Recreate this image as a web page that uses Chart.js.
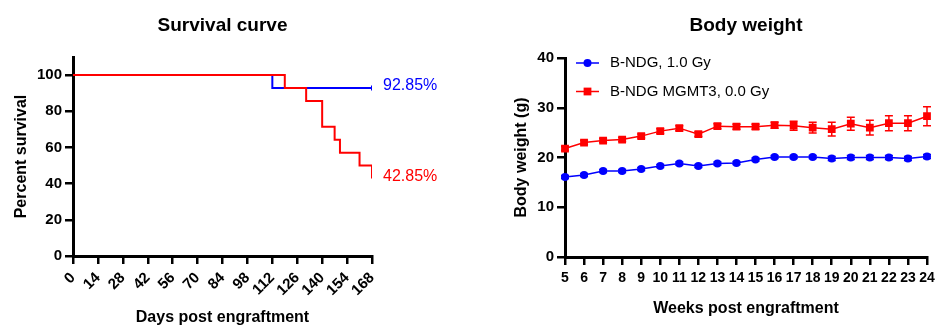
<!DOCTYPE html>
<html>
<head>
<meta charset="utf-8">
<script src="https://cdn.jsdelivr.net/npm/chart.js@4.4.1/dist/chart.umd.min.js"></script>
<style>
body{margin:0;background:#fff;}
#wrap{position:relative;width:943px;height:335px;}
canvas{position:absolute;top:0;}
#survival{left:0;}
#weight{left:470px;}
</style>
</head>
<body>
<div id="wrap">
<canvas id="survival" width="470" height="335"></canvas>
<canvas id="weight" width="473" height="335"></canvas>
</div>
<script>
// survival data (percent alive, step points)
const bndgDays = [0, 112, 168];
const bndgSurv = [100, 92.85, 92.85];
const mgmtDays = [0, 119, 131, 140, 147, 150, 161, 168];
const mgmtSurv = [100, 92.85, 85.71, 71.43, 64.29, 57.14, 50, 42.85];

// body weight data (g), mean and SD
const weeks = ['5','6','7','8','9','10','11','12','13','14','15','16','17','18','19','20','21','22','23','24'];
const bndgWeight = [16.1, 16.5, 17.3, 17.3, 17.7, 18.3, 18.8, 18.3, 18.8, 18.9, 19.6, 20.1, 20.1, 20.1, 19.8, 20.0, 20.0, 20.0, 19.8, 20.2];
const bndgSd     = [0.3, 0.3, 0.3, 0.3, 0.3, 0.3, 0.3, 0.3, 0.3, 0.3, 0.3, 0.3, 0.3, 0.3, 0.4, 0.4, 0.4, 0.4, 0.4, 0.4];
const mgmtWeight = [21.8, 23.0, 23.4, 23.6, 24.3, 25.3, 25.9, 24.7, 26.3, 26.2, 26.2, 26.5, 26.4, 26.0, 25.7, 26.8, 26.0, 26.9, 26.9, 28.3];
const mgmtSd     = [0.4, 0.4, 0.4, 0.4, 0.4, 0.5, 0.5, 0.5, 0.5, 0.5, 0.5, 0.6, 0.9, 1.1, 1.4, 1.3, 1.5, 1.5, 1.5, 1.9];

const FONT = 'Arial, "Liberation Sans", sans-serif';
const BLUE = '#0000ff';
const RED = '#ff0000';
Chart.defaults.font.family = FONT;
Chart.defaults.color = '#000';

const pts = (xs, ys) => xs.map((x, i) => ({x: x, y: ys[i]}));

// title centred over the plot area
const plotTitle = {
  id: 'plotTitle',
  afterDraw(chart, args, opts) {
    const {ctx, chartArea} = chart;
    ctx.save();
    ctx.font = 'bold 19px ' + FONT;
    ctx.fillStyle = '#000';
    ctx.textAlign = 'center';
    ctx.textBaseline = 'middle';
    ctx.fillText(opts.text, (chartArea.left + chartArea.right) / 2, opts.y);
    ctx.restore();
  }
};

// percent label at the end of each survival curve
const endLabels = {
  id: 'endLabels',
  afterDatasetsDraw(chart) {
    const ctx = chart.ctx;
    ctx.save();
    ctx.font = '16px ' + FONT;
    ctx.textAlign = 'left';
    ctx.textBaseline = 'middle';
    chart.data.datasets.forEach((ds, i) => {
      const last = ds.data[ds.data.length - 1];
      const px = chart.scales.x.getPixelForValue(last.x);
      const py = chart.scales.y.getPixelForValue(last.y);
      ctx.fillStyle = ds.borderColor;
      ctx.fillText(last.y.toFixed(2) + '%', px + 11, py - 2);
    });
    ctx.restore();
  }
};

// error bars under the markers
const errorBars = {
  id: 'errorBars',
  beforeDatasetsDraw(chart) {
    const ctx = chart.ctx;
    const y = chart.scales.y;
    ctx.save();
    chart.data.datasets.forEach((ds, i) => {
      const meta = chart.getDatasetMeta(i);
      ctx.strokeStyle = ds.borderColor;
      ctx.lineWidth = 1.5;
      meta.data.forEach((p, j) => {
        const top = y.getPixelForValue(ds.data[j] + ds.sd[j]);
        const bot = y.getPixelForValue(ds.data[j] - ds.sd[j]);
        ctx.beginPath();
        ctx.moveTo(p.x, top); ctx.lineTo(p.x, bot);
        ctx.moveTo(p.x - 4, top); ctx.lineTo(p.x + 4, top);
        ctx.moveTo(p.x - 4, bot); ctx.lineTo(p.x + 4, bot);
        ctx.stroke();
      });
    });
    ctx.restore();
  }
};

// legend drawn inside the plot area, top left
const innerLegend = {
  id: 'innerLegend',
  afterDatasetsDraw(chart) {
    const ctx = chart.ctx;
    const x0 = chart.chartArea.left + 11;
    ctx.save();
    ctx.font = '15px ' + FONT;
    ctx.textBaseline = 'middle';
    chart.data.datasets.forEach((ds, i) => {
      const yy = 63 + i * 28.5;
      ctx.strokeStyle = ds.borderColor;
      ctx.lineWidth = 1.5;
      ctx.beginPath();
      ctx.moveTo(x0, yy); ctx.lineTo(x0 + 23, yy);
      ctx.stroke();
      ctx.fillStyle = ds.borderColor;
      ctx.beginPath();
      if (ds.pointStyle === 'rect') {
        const s = Math.SQRT1_2 * ds.pointRadius;
        ctx.rect(x0 + 11.5 - s, yy - s, 2 * s, 2 * s);
      } else {
        ctx.arc(x0 + 11.5, yy, ds.pointRadius, 0, Math.PI * 2);
      }
      ctx.fill();
      ctx.fillStyle = '#000';
      ctx.fillText(ds.label, x0 + 34, yy);
    });
    ctx.restore();
  }
};

const axisLine = { display: true, color: '#000', width: 3 };
const tickMarks = { display: true, drawOnChartArea: false, drawTicks: true, tickLength: 8, color: '#000', lineWidth: 2.5 };

new Chart(document.getElementById('survival'), {
  type: 'line',
  data: {
    datasets: [{
      label: 'B-NDG MGMT3, 0.0 Gy',
      data: pts(mgmtDays, mgmtSurv),
      borderColor: RED,
      borderWidth: 2,
      stepped: true,
      pointRadius: 0
    }, {
      label: 'B-NDG, 1.0 Gy',
      data: pts(bndgDays, bndgSurv),
      borderColor: BLUE,
      backgroundColor: BLUE,
      borderWidth: 2,
      stepped: true,
      pointStyle: 'line',
      rotation: 90,
      pointBorderWidth: 2,
      pointRadius: c => c.dataIndex === bndgDays.length - 1 ? 2.5 : 0
    }]
  },
  options: {
    responsive: false,
    animation: false,
    layout: { padding: { left: 0, right: 98, top: 57, bottom: 0 } },
    plugins: {
      legend: { display: false },
      tooltip: { enabled: false },
      plotTitle: { text: 'Survival curve', y: 26 }
    },
    scales: {
      x: {
        type: 'linear', min: 0, max: 168,
        ticks: { stepSize: 14, autoSkip: false, minRotation: 45, maxRotation: 45, padding: 5, font: { size: 15, weight: 'bold' } },
        grid: tickMarks,
        border: axisLine,
        title: { display: true, text: 'Days post engraftment', font: { size: 16, weight: 'bold' }, padding: { top: 0, bottom: 8 } },
        afterFit(s) { s.height = 79; }
      },
      y: {
        min: 0, max: 110,
        ticks: { stepSize: 20, padding: 3, font: { size: 15, weight: 'bold' } },
        afterBuildTicks(s) { s.ticks = s.ticks.filter(t => t.value <= 100); },
        grid: tickMarks,
        border: axisLine,
        title: { display: true, text: 'Percent survival', font: { size: 16, weight: 'bold' }, padding: { top: 12, bottom: 0 } },
        afterFit(s) { s.width = 73; }
      }
    }
  },
  plugins: [plotTitle, endLabels]
});

new Chart(document.getElementById('weight'), {
  type: 'line',
  data: {
    labels: weeks,
    datasets: [{
      label: 'B-NDG, 1.0 Gy',
      data: bndgWeight,
      sd: bndgSd,
      borderColor: BLUE,
      backgroundColor: BLUE,
      borderWidth: 1.5,
      pointStyle: 'circle',
      pointRadius: 4,
      pointBorderWidth: 0
    }, {
      label: 'B-NDG MGMT3, 0.0 Gy',
      data: mgmtWeight,
      sd: mgmtSd,
      borderColor: RED,
      backgroundColor: RED,
      borderWidth: 1.5,
      pointStyle: 'rect',
      pointRadius: 5.5,
      pointBorderWidth: 0
    }]
  },
  options: {
    responsive: false,
    animation: false,
    layout: { padding: { left: 0, right: 16, top: 58, bottom: 0 } },
    plugins: {
      legend: { display: false },
      tooltip: { enabled: false },
      plotTitle: { text: 'Body weight', y: 26 }
    },
    scales: {
      x: {
        offset: false,
        ticks: { autoSkip: false, maxRotation: 0, padding: 5, font: { size: 14, weight: 'bold' } },
        grid: tickMarks,
        border: axisLine,
        title: { display: true, text: 'Weeks post engraftment', font: { size: 16, weight: 'bold' }, padding: { top: 0, bottom: 17 } },
        afterFit(s) { s.height = 78; }
      },
      y: {
        min: 0, max: 40,
        ticks: { stepSize: 10, padding: 3, font: { size: 15, weight: 'bold' } },
        grid: tickMarks,
        border: axisLine,
        title: { display: true, text: 'Body weight (g)', font: { size: 16, weight: 'bold' }, padding: { top: 42, bottom: 0 } },
        afterFit(s) { s.width = 95; }
      }
    }
  },
  plugins: [plotTitle, errorBars, innerLegend]
});
</script>
</body>
</html>
